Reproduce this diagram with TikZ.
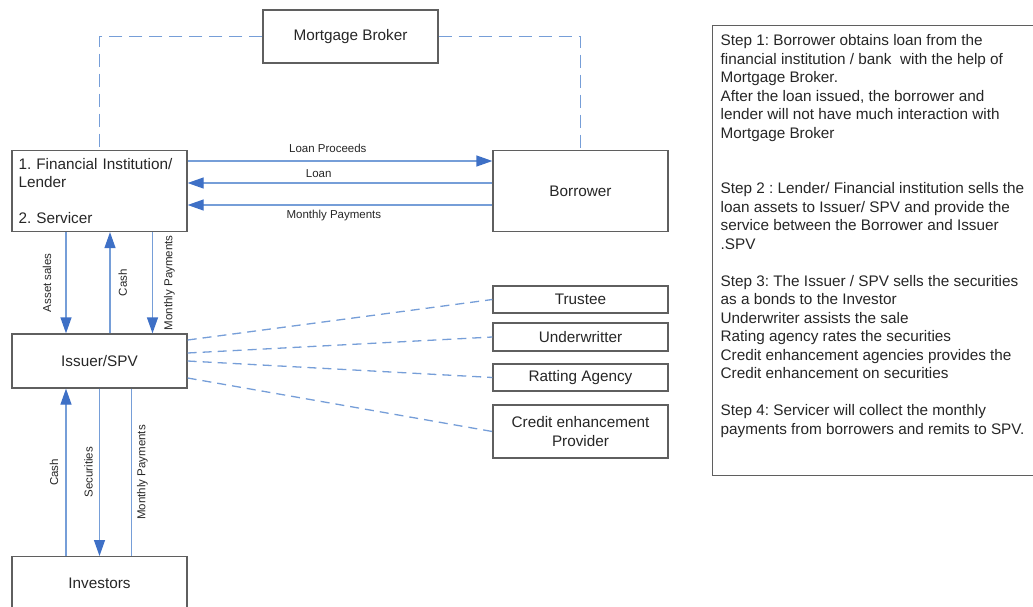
\documentclass[tikz,border=0pt]{standalone}
\usepackage{fontspec}
\setmainfont{Liberation Sans}
\usetikzlibrary{arrows.meta}
\definecolor{lineblue}{RGB}{118,158,216}
\definecolor{tipblue}{RGB}{62,112,198}
\definecolor{boxgray}{RGB}{95,95,95}
\frenchspacing

\begin{document}
\begin{tikzpicture}[x=1pt, y=-1pt, font=\fontsize{15.3}{18.5}\selectfont, text=black!85]
\tikzstyle{box} = [draw=boxgray, line width=1.3pt, minimum width=175pt, inner sep=0pt, align=center]
\tikzstyle{flow} = [draw=lineblue, line width=1.3pt, -{Triangle[length=16pt, width=11pt, color=tipblue]}]
\tikzstyle{plain} = [draw=lineblue, line width=1.3pt]
\tikzstyle{link} = [draw=lineblue, line width=1.3pt, dash pattern=on 9pt off 6pt]
\tikzstyle{tag} = [font=\fontsize{11.5}{13}\selectfont, inner sep=2pt]

\useasboundingbox (0,0) rectangle (1033,606);

\node[box, minimum height=53pt] (broker) at (350.5,36.5) {Mortgage Broker};
\node[box, minimum height=81pt, align=left, text width=162pt] (lender) at (99.5,191) {1. Financial Institution/\\Lender\\[17pt]2. Servicer};
\node[box, minimum height=81pt] (borrower) at (580.5,191) {Borrower};
\node[box, minimum height=54pt] (issuer) at (99.5,361) {Issuer/SPV};
\node[box, minimum height=27pt] (trustee) at (580.5,299.5) {Trustee};
\node[box, minimum height=28pt] (under) at (580.5,337) {Underwritter};
\node[box, minimum height=27pt] (rating) at (580.5,377.5) {Ratting Agency};
\node[box, minimum height=53pt] (credit) at (580.5,431.5) {Credit enhancement\\Provider};
\node[box, minimum height=54pt, anchor=north] (investors) at (99.5,556) {Investors};

\node[box, anchor=north west, minimum width=0pt, align=left, inner xsep=8pt, inner ysep=9pt] (steps) at (712,25) {\parbox[t][432pt][t]{330pt}{%
Step 1: Borrower obtains loan from the\\
financial institution / bank\ \ with the help of\\
Mortgage Broker.\\
After the loan issued, the borrower and\\
lender will not have much interaction with\\
Mortgage Broker\\[37pt]
Step 2 : Lender/ Financial institution sells the\\
loan assets to Issuer/ SPV and provide the\\
service between the Borrower and Issuer\\
.SPV\\[18.5pt]
Step 3: The Issuer / SPV sells the securities\\
as a bonds to the Investor\\
Underwriter assists the sale\\
Rating agency rates the securities\\
Credit enhancement agencies provides the\\
Credit enhancement on securities\\[18.5pt]
Step 4: Servicer will collect the monthly\\
payments from borrowers and remits to SPV.}};

\draw[link, dash pattern=on 13pt off 7pt] (broker.west) -| (lender.north);
\draw[link, dash pattern=on 13pt off 7pt] (broker.east) -| (borrower.north);

\draw[flow] ([yshift=30pt]lender.east) -- node[tag, above=6pt, pos=.46] {Loan Proceeds} ([yshift=30pt]borrower.west);
\draw[flow] ([yshift=8pt]borrower.west) -- node[tag, above=3pt, pos=.57] {Loan} ([yshift=8pt]lender.east);
\draw[flow] ([yshift=-14pt]borrower.west) -- node[tag, below=3pt, pos=.52] {Monthly Payments} ([yshift=-14pt]lender.east);

\draw[flow] ([xshift=-33.5pt]lender.south) -- node[tag, rotate=90, anchor=south, inner ysep=14pt] {Asset sales} ([xshift=-33.5pt]issuer.north);
\draw[flow] ([xshift=10.5pt]issuer.north) -- node[tag, rotate=90, anchor=north, inner ysep=8pt] {Cash} ([xshift=10.5pt]lender.south);
\draw[flow] ([xshift=53pt]lender.south) -- node[tag, rotate=90, anchor=north, inner ysep=11pt] {Monthly Payments} ([xshift=53pt]issuer.north);

\draw[link] ([yshift=21pt]issuer.east) -- (trustee.west);
\draw[link] ([yshift=8pt]issuer.east) -- (under.west);
\draw[link] (issuer.east) -- (rating.west);
\draw[link] ([yshift=-17pt]issuer.east) -- (credit.west);

\draw[flow] ([xshift=-33.5pt]investors.north) -- node[tag, rotate=90, anchor=south, inner ysep=7pt] {Cash} ([xshift=-33.5pt]issuer.south);
\draw[flow] (issuer.south) -- node[tag, rotate=90, anchor=south, inner ysep=6pt] {Securities} (investors.north);
\draw[plain] ([xshift=32pt]issuer.south) -- node[tag, rotate=90, anchor=north, inner ysep=5pt] {Monthly Payments} ([xshift=32pt]investors.north);
\end{tikzpicture}
\end{document}
